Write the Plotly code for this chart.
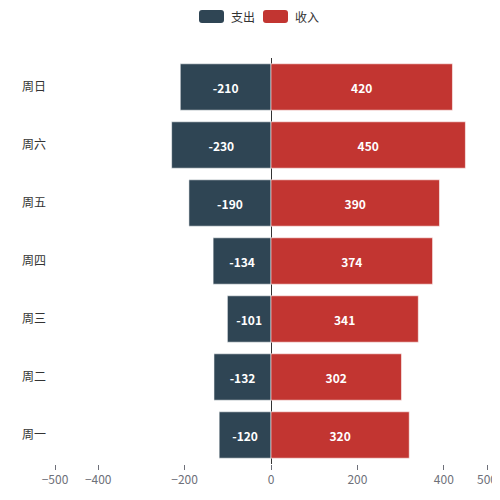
import plotly.graph_objects as go

# Weekly spending vs income
days = ["周一", "周二", "周三", "周四", "周五", "周六", "周日"]
spend = [-120, -132, -101, -134, -190, -230, -210]
income = [320, 302, 341, 374, 390, 450, 420]
x_ticks = [-500, -400, -200, 0, 200, 400, 500]

series_names = ["支出", "收入"]
series_colors = ["#2f4554", "#c23531"]

FONT = "Noto Sans CJK SC, Microsoft YaHei, sans-serif"
bar_line = dict(color="rgba(255,255,255,0.55)", width=1)

fig = go.Figure()
for name, vals, color in zip(series_names, [spend, income], series_colors):
    fig.add_bar(y=days, x=vals, orientation="h", name=name,
                marker=dict(color=color, line=bar_line),
                text=vals, textposition="inside", insidetextanchor="middle",
                textfont=dict(color="white", size=12, family=FONT, weight="bold"))


def round_rect(x0, y0, x1, y1, r=3):
    return (f"M{x0 + r},{y0} L{x1 - r},{y0} Q{x1},{y0} {x1},{y0 + r} "
            f"L{x1},{y1 - r} Q{x1},{y1} {x1 - r},{y1} L{x0 + r},{y1} "
            f"Q{x0},{y1} {x0},{y1 - r} L{x0},{y0 + r} Q{x0},{y0} {x0 + r},{y0} Z")


# legend drawn by hand so the swatches are rounded rectangles like the original
shapes = []
annotations = []
for i, (name, color) in enumerate(zip(series_names, series_colors)):
    left = -72 + i * 64
    shapes.append(dict(type="path", xref="paper", yref="paper",
                       xsizemode="pixel", ysizemode="pixel",
                       xanchor=0.5, yanchor=1,
                       path=round_rect(left, 35, left + 25, 48),
                       fillcolor=color, line_width=0))
    annotations.append(dict(text=name, xref="paper", yref="paper", x=0.5, y=1,
                            xshift=left + 30, yshift=41.5, xanchor="left",
                            yanchor="middle", showarrow=False,
                            font=dict(size=12, color="#333", family=FONT)))

fig.update_layout(
    width=492, height=492,
    barmode="relative", bargap=0.2,
    margin=dict(l=47, r=13, t=50, b=36, autoexpand=False),
    paper_bgcolor="white", plot_bgcolor="white",
    font=dict(family=FONT, size=12, color="#333"),
    showlegend=False,
    uniformtext=dict(minsize=12, mode="show"),
    shapes=shapes,
    annotations=annotations,
)
fig.update_xaxes(range=[-500, 500], tickvals=x_ticks, ticks="outside", ticklen=5,
                 tickcolor="#6e7079", tickfont=dict(color="#6e7079"),
                 showgrid=False, showline=False, automargin=False,
                 zeroline=True, zerolinecolor="#333", zerolinewidth=1)
fig.update_yaxes(showgrid=False, showline=False, ticks="", ticklabelstandoff=8,
                 automargin=False, tickfont=dict(color="#333"))

fig.write_html("out.html")
